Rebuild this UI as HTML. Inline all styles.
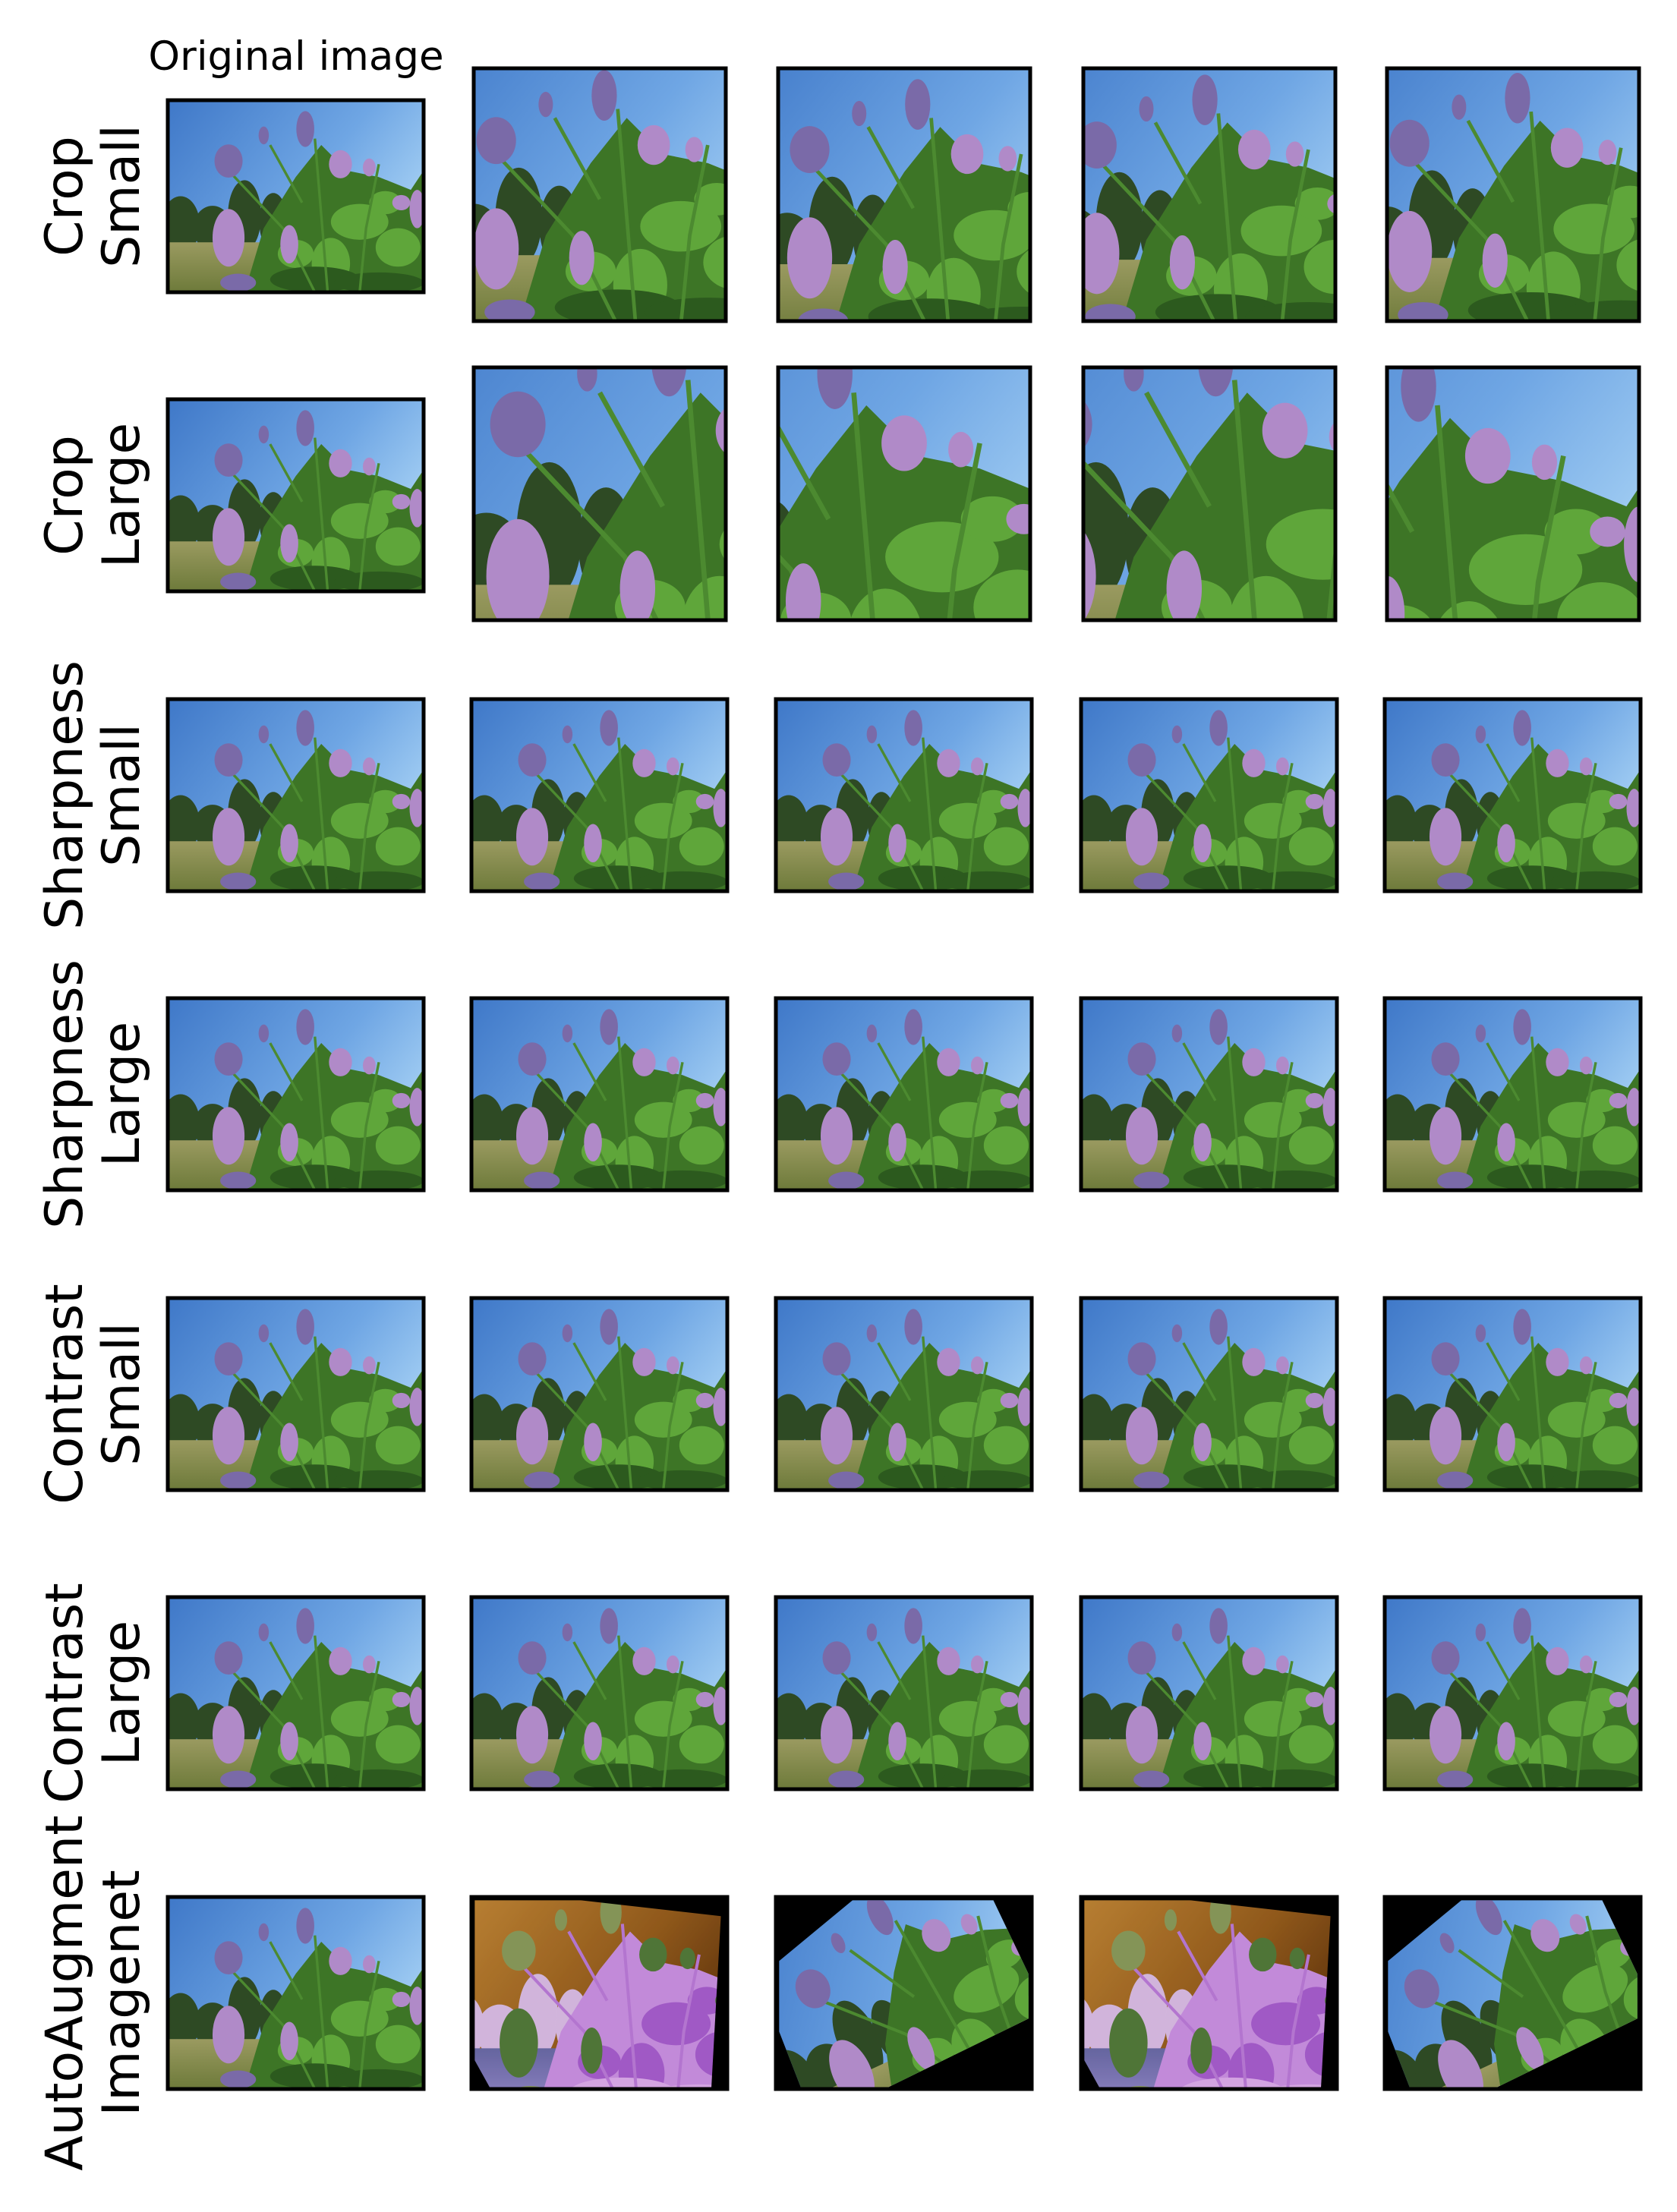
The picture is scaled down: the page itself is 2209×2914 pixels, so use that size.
<!DOCTYPE html>
<html><head><meta charset="utf-8">
<style>
html,body{margin:0;padding:0;background:#fff;}
svg{display:block;}
text{font-family:"DejaVu Sans","Liberation Sans",sans-serif;fill:#000;}
</style></head>
<body>
<svg id="fig" xmlns="http://www.w3.org/2000/svg" width="2209" height="2914" viewBox="0 0 2209 2914">
<defs>
  <linearGradient id="sky" x1="0" y1="0" x2="1" y2="0.6">
    <stop offset="0" stop-color="#3f78c8"/>
    <stop offset="0.6" stop-color="#6fa6e4"/>
    <stop offset="1" stop-color="#a9d3f5"/>
  </linearGradient>
  <linearGradient id="field" x1="0" y1="0" x2="0" y2="1">
    <stop offset="0" stop-color="#9a9a60"/>
    <stop offset="1" stop-color="#6d7a3a"/>
  </linearGradient>
  <filter id="inv" color-interpolation-filters="sRGB">
    <feComponentTransfer>
      <feFuncR type="table" tableValues="1 0"/>
      <feFuncG type="table" tableValues="1 0"/>
      <feFuncB type="table" tableValues="1 0"/>
    </feComponentTransfer>
  </filter>
  <symbol id="scene" viewBox="0 0 400 300" preserveAspectRatio="none">
    <rect x="0" y="0" width="400" height="300" fill="url(#sky)"/>
    <g fill="#2e4a24">
      <ellipse cx="20" cy="195" rx="30" ry="45"/>
      <ellipse cx="70" cy="200" rx="30" ry="35"/>
      <ellipse cx="120" cy="180" rx="26" ry="55"/>
      <ellipse cx="165" cy="190" rx="22" ry="45"/>
      <ellipse cx="210" cy="200" rx="30" ry="30"/>
    </g>
    <rect x="0" y="222" width="400" height="78" fill="url(#field)"/>
    <g fill="#3d7526">
      <path d="M120 300 L150 200 L200 120 L240 70 L280 110 L330 120 L380 140 L400 110 L400 300 Z"/>
    </g>
    <g fill="#5fa63a">
      <ellipse cx="300" cy="190" rx="45" ry="28"/>
      <ellipse cx="255" cy="255" rx="30" ry="40"/>
      <ellipse cx="360" cy="230" rx="35" ry="30"/>
      <ellipse cx="200" cy="240" rx="28" ry="22"/>
      <ellipse cx="340" cy="160" rx="25" ry="18"/>
    </g>
    <g fill="#2c5a1e">
      <ellipse cx="230" cy="280" rx="70" ry="20"/>
      <ellipse cx="330" cy="285" rx="70" ry="16"/>
    </g>
    <g stroke="#4c8a30" stroke-width="4" fill="none">
      <path d="M95 110 L180 200 L230 300"/>
      <path d="M230 60 L240 180 L250 300"/>
      <path d="M330 100 L310 200 L300 300"/>
      <path d="M160 70 L210 160"/>
    </g>
    <g fill="#7a6aa8">
      <ellipse cx="95" cy="95" rx="22" ry="26"/>
      <ellipse cx="215" cy="45" rx="14" ry="28"/>
      <ellipse cx="150" cy="55" rx="8" ry="14"/>
      <ellipse cx="110" cy="285" rx="28" ry="14"/>
    </g>
    <g fill="#b08ac8">
      <ellipse cx="95" cy="215" rx="25" ry="45"/>
      <ellipse cx="270" cy="100" rx="18" ry="22"/>
      <ellipse cx="390" cy="170" rx="12" ry="30"/>
      <ellipse cx="365" cy="160" rx="14" ry="12"/>
      <ellipse cx="190" cy="225" rx="14" ry="30"/>
      <ellipse cx="315" cy="105" rx="10" ry="14"/>
    </g>
  </symbol>
</defs>
<g id="cells"></g>
<g id="labels"></g>
</svg>
<script>
const colX = [221, 621, 1022, 1424, 1824];
const rowY = [132, 526, 921, 1315, 1710, 2104, 2499];
const rowLine1 = ["Crop", "Crop", "Sharpness", "Sharpness", "Contrast", "Contrast", "AutoAugment"];
const rowLine2 = ["Small", "Large", "Small", "Large", "Small", "Large", "Imagenet"];
const smallCropViews = ["70 15 280 280", "60 5 280 280", "80 10 280 280", "70 12 280 280"];
const largeCropViews = ["60 50 200 200", "170 40 200 200", "110 50 200 200", "190 30 200 200"];
const W = 337, H = 253, SQ = 332;
const NS = "http://www.w3.org/2000/svg";
const cells = document.getElementById('cells');
const labels = document.getElementById('labels');

function mk(tag, attrs, parent) {
  const e = document.createElementNS(NS, tag);
  for (const k in attrs) e.setAttribute(k, attrs[k]);
  parent.appendChild(e);
  return e;
}

rowY.forEach((y, r) => {
  colX.forEach((x, c) => {
    let bx = x, by = y, bw = W, bh = H, vb = "0 0 400 300";
    if ((r === 0 || r === 1) && c > 0) {
      bx = x + 3; by = y - 42; bw = SQ; bh = SQ + 1;
      vb = r === 0 ? smallCropViews[c - 1] : largeCropViews[c - 1];
    }
    const g = mk('g', {}, cells);
    
    
    const inner = mk('svg', {x: bx, y: by, width: bw, height: bh, viewBox: vb, preserveAspectRatio: 'none'}, g);
    if (r === 6 && c > 0) {
      mk('rect', {x: 0, y: 0, width: 400, height: 300, fill: '#000'}, inner);
      const clipId = 'clip' + c;
      const cp = mk('clipPath', {id: clipId}, inner);
      if (c === 1 || c === 3) {
        mk('polygon', {points: '5,5 170,5 390,30 375,300 30,300 5,255', fill: '#fff'}, cp);
      } else {
        mk('polygon', {points: '120,5 340,5 395,120 395,190 170,300 40,300 5,210 5,100', fill: '#fff'}, cp);
      }
      const gg = mk('g', {'clip-path': 'url(#' + clipId + ')'}, inner);
      const u = mk('use', {href: '#scene', x: -40, y: -30, width: 480, height: 360}, gg);
      if (c === 1 || c === 3) u.setAttribute('filter', 'url(#inv)');
      else u.setAttribute('transform', 'rotate(-25 200 150)');
    } else {
      mk('use', {href: '#scene', x: 0, y: 0, width: 400, height: 300}, inner);
    }
    const b = mk('rect', {x: bx, y: by, width: bw, height: bh, fill: 'none', stroke: '#000', 'stroke-width': 5}, g);
    
    
  });
  const cy = y + H / 2;
  const t1 = mk('text', {x: 0, y: 0, 'font-size': 68, 'text-anchor': 'middle', transform: 'translate(108 ' + cy + ') rotate(-90)'}, labels);
  t1.textContent = rowLine1[r];
  
  
  const t2 = mk('text', {x: 0, y: 0, 'font-size': 68, 'text-anchor': 'middle', transform: 'translate(183 ' + cy + ') rotate(-90)'}, labels);
  t2.textContent = rowLine2[r];
  
  
});
const title = mk('text', {x: 390, y: 92, 'font-size': 53, 'text-anchor': 'middle'}, labels);
title.textContent = 'Original image';


</script>
</body></html>
